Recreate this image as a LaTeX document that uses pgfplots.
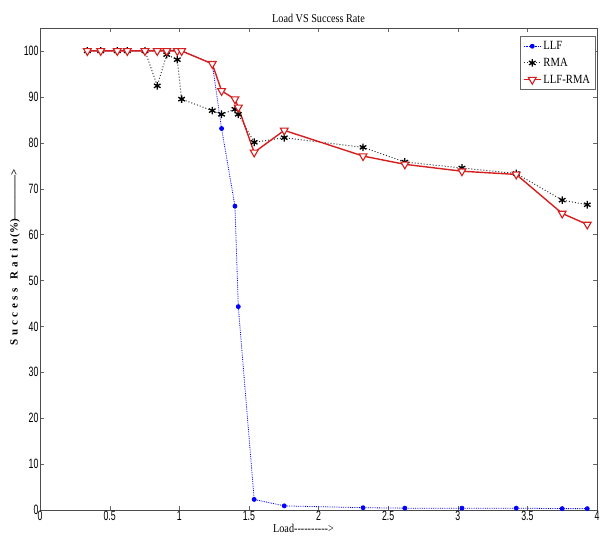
\documentclass[border=0pt]{standalone}
\usepackage{pgfplots}
\pgfplotsset{compat=1.18}
\usepackage{fontspec}
\setmainfont{Liberation Serif}
\newfontfamily\tickfont[FakeStretch=0.65]{Liberation Sans}
\newfontfamily\titlefont[FakeStretch=0.85]{Liberation Serif}
\definecolor{myred}{RGB}{215,30,30}
\begin{document}
\begin{tikzpicture}
\begin{axis}[
  at={(0,0)}, anchor=south west,
  scale only axis,
  width=557pt, height=482pt,
  xmin=0, xmax=4, ymin=0, ymax=105,
  xtick={0,0.5,...,4},
  ytick={0,10,...,100},
  tick align=inside,
  tick pos=both,
  major tick length=4pt,
  axis line style={black!70, line width=0.8pt},
  tick style={black!60},
  /pgf/number format/assume math mode=true,
  ticklabel style={font=\tickfont\fontsize{13.5}{14}\selectfont},
  xticklabel style={yshift=2pt},
  yticklabel style={xshift=2pt},
  title={\titlefont\fontsize{12}{14}\selectfont Load VS Success Rate},
  title style={yshift=-4pt},
  xlabel={\titlefont\fontsize{12}{14}\selectfont Load---------->},
  xlabel style={yshift=4pt, xshift=-15pt},
  ylabel={\fontsize{11}{12}\selectfont\bfseries S\,\,u\,\,c\,\,c\,\,e\,\,s\,\,s\ \ \ R\,\,a\,\,t\,\,i\,\,o\,(\%)------------>},
  ylabel style={yshift=-3pt, xshift=12pt},
  legend style={at={(0.997,0.983)}, anchor=north east, font=\titlefont\fontsize{12.5}{15}\selectfont,
    draw=black!60, row sep=3pt, inner sep=3pt},
  legend cell align=left,
  clip=false,
]
\addplot[blue, densely dotted, line width=0.8pt, mark=*, mark size=2pt, mark options={solid, fill=blue}]
coordinates {
(0.34,100) (0.436,100) (0.555,100) (0.627,100) (0.754,100) (0.842,100) (0.91,100) (0.986,100) (1.017,100)
(1.237,97.2) (1.304,83.1) (1.40,66.2) (1.424,44.3) (1.538,2.3) (1.754,0.9) (2.32,0.5) (2.62,0.4)
(3.03,0.4) (3.42,0.4) (3.75,0.3) (3.93,0.3)
};
\addlegendentry{LLF}
\addplot[black!80, dotted, line width=1pt, mark=asterisk, mark size=3.8pt, mark options={solid, black, line width=1.3pt}]
coordinates {
(0.34,100) (0.436,100) (0.555,100) (0.627,100) (0.754,100) (0.842,92.4) (0.91,99.2) (0.986,98.1) (1.017,89.5)
(1.237,87.0) (1.304,86.2) (1.40,87.3) (1.424,86.2) (1.538,80.1) (1.754,81.1) (2.32,79.0) (2.62,75.8)
(3.03,74.5) (3.42,73.3) (3.75,67.5) (3.93,66.5)
};
\addlegendentry{RMA}
\addplot[myred, line width=1.4pt, mark=triangle*, mark size=4.5pt, mark options={rotate=180, fill=white, draw=myred, line width=1.1pt}]
coordinates {
(0.34,100) (0.436,100) (0.555,100) (0.627,100) (0.754,100) (0.842,100) (0.91,100) (0.986,100) (1.017,100)
(1.237,97.2) (1.304,91.3) (1.40,89.5) (1.424,87.7) (1.538,77.9) (1.754,82.7) (2.32,77.1) (2.62,75.3)
(3.03,73.8) (3.42,73.1) (3.75,64.6) (3.93,62.2)
};
\addlegendentry{LLF-RMA}
\end{axis}
\pgfresetboundingbox
\path ([xshift=-40pt,yshift=-32pt]current axis.south west) rectangle ([xshift=8pt,yshift=28pt]current axis.north east);
\end{tikzpicture}
\end{document}
